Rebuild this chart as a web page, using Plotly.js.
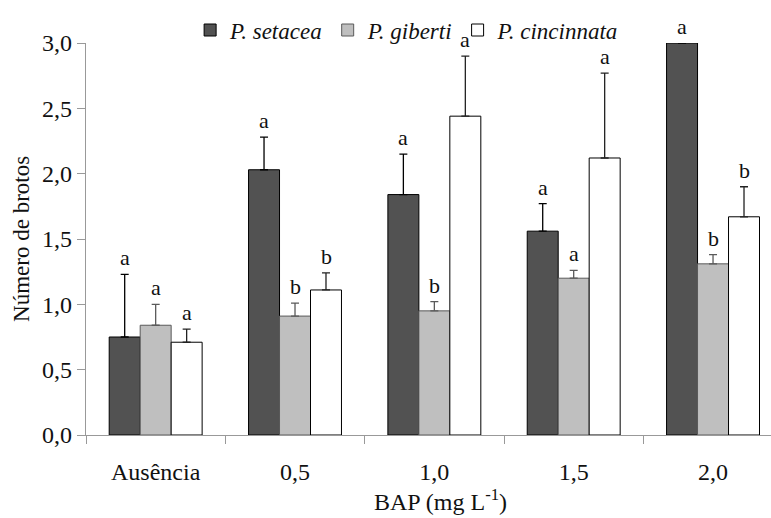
<!DOCTYPE html>
<html>
<head>
<meta charset="utf-8">
<script src="https://cdn.plot.ly/plotly-3.0.1.min.js"></script>
<style>
  html, body { margin: 0; padding: 0; background: #fff; }
  #chart { width: 771px; height: 518px; }
</style>
</head>
<body>
<div id="chart"></div>
<script>
// BAP concentration groups
const categories = ['Ausência', '0,5', '1,0', '1,5', '2,0'];

// Mean number of shoots per species
const setacea    = [0.75, 2.03, 1.84, 1.56, 3.00];
const giberti    = [0.84, 0.91, 0.95, 1.20, 1.31];
const cincinnata = [0.71, 1.11, 2.44, 2.12, 1.67];

// Standard errors (upper whisker only)
const setaceaErr    = [0.48, 0.25, 0.31, 0.21, 0.00];
const gibertiErr    = [0.16, 0.10, 0.07, 0.06, 0.07];
const cincinnataErr = [0.10, 0.13, 0.46, 0.65, 0.23];

// Significance letters
const setaceaLetters    = ['a', 'a', 'a', 'a', 'a'];
const gibertiLetters    = ['a', 'b', 'b', 'a', 'b'];
const cincinnataLetters = ['a', 'b', 'a', 'a', 'b'];

const seriesNames = ['P. setacea', 'P. giberti', 'P. cincinnata'];

const serif = 'Liberation Serif';
const zeros = categories.map(() => 0);

const series = [
  { name: seriesNames[0], y: setacea, err: setaceaErr, letters: setaceaLetters,
    fill: '#525252', line: '#000000', errColor: '#000000' },
  { name: seriesNames[1], y: giberti, err: gibertiErr, letters: gibertiLetters,
    fill: '#bfbfbf', line: '#5a5a5a', errColor: '#5a5a5a' },
  { name: seriesNames[2], y: cincinnata, err: cincinnataErr, letters: cincinnataLetters,
    fill: '#ffffff', line: '#000000', errColor: '#222222' }
];

const traces = series.map(s => ({
  type: 'bar',
  name: s.name,
  x: categories,
  y: s.y,
  marker: { color: s.fill, line: { color: s.line, width: 1 } },
  error_y: {
    type: 'data', symmetric: false, array: s.err, arrayminus: zeros,
    color: s.errColor, thickness: 1.3, width: 4
  },
  hoverinfo: 'x+y+name'
}));

// Letters sit just above each whisker, shifted to the bar's slot in its group
const slot = 31;
const annotations = [];
series.forEach((s, i) => {
  categories.forEach((c, j) => {
    annotations.push({
      x: c, xref: 'x', y: s.y[j] + s.err[j], yref: 'y',
      text: s.letters[j], showarrow: false,
      xshift: (i - 1) * slot, yshift: 2, yanchor: 'bottom',
      font: { family: serif, size: 22, color: '#111' }
    });
  });
});

// Axis titles
annotations.push({
  text: 'BAP (mg L<sup>-1</sup>)', showarrow: false,
  xref: 'paper', x: 0.517, xanchor: 'center',
  yref: 'paper', y: -0.166, yanchor: 'middle',
  font: { family: serif, size: 24, color: '#111' }
});
annotations.push({
  text: 'Número de brotos', showarrow: false, textangle: -90,
  xref: 'paper', x: -0.095, xanchor: 'center',
  yref: 'paper', y: 0.5, yanchor: 'middle',
  font: { family: serif, size: 23, color: '#111' }
});

const layout = {
  width: 771, height: 518,
  margin: { l: 86, r: 0, t: 43, b: 83 },
  paper_bgcolor: '#ffffff', plot_bgcolor: '#ffffff',
  separators: ',.',
  font: { family: serif, size: 20, color: '#111' },
  barmode: 'group', bargap: 0.333, bargroupgap: 0,
  showlegend: true,
  legend: {
    orientation: 'h', x: 0.152, xanchor: 'left', y: 1.033, yanchor: 'middle',
    font: { family: serif, size: 23, style: 'italic', color: '#111' },
    bgcolor: 'rgba(0,0,0,0)', traceorder: 'normal'
  },
  xaxis: {
    type: 'category', range: [-0.5, 4.416],
    showline: true, linecolor: '#999999', linewidth: 1.3,
    ticks: 'outside', tickson: 'boundaries', ticklen: 8, tickcolor: '#999999',
    ticklabelstandoff: 15,
    showgrid: false, zeroline: false,
    tickfont: { family: serif, size: 24, color: '#111' }
  },
  yaxis: {
    range: [0, 3.0], tickvals: [0, 0.5, 1, 1.5, 2, 2.5, 3], tickformat: '.1f',
    showline: true, linecolor: '#999999', linewidth: 1.3,
    ticks: 'outside', ticklen: 8, tickcolor: '#999999',
    showgrid: false, zeroline: false,
    tickfont: { family: serif, size: 24, color: '#111' }
  },
  annotations: annotations
};

Plotly.newPlot('chart', traces, layout, { displayModeBar: false, staticPlot: true });
</script>
</body>
</html>
